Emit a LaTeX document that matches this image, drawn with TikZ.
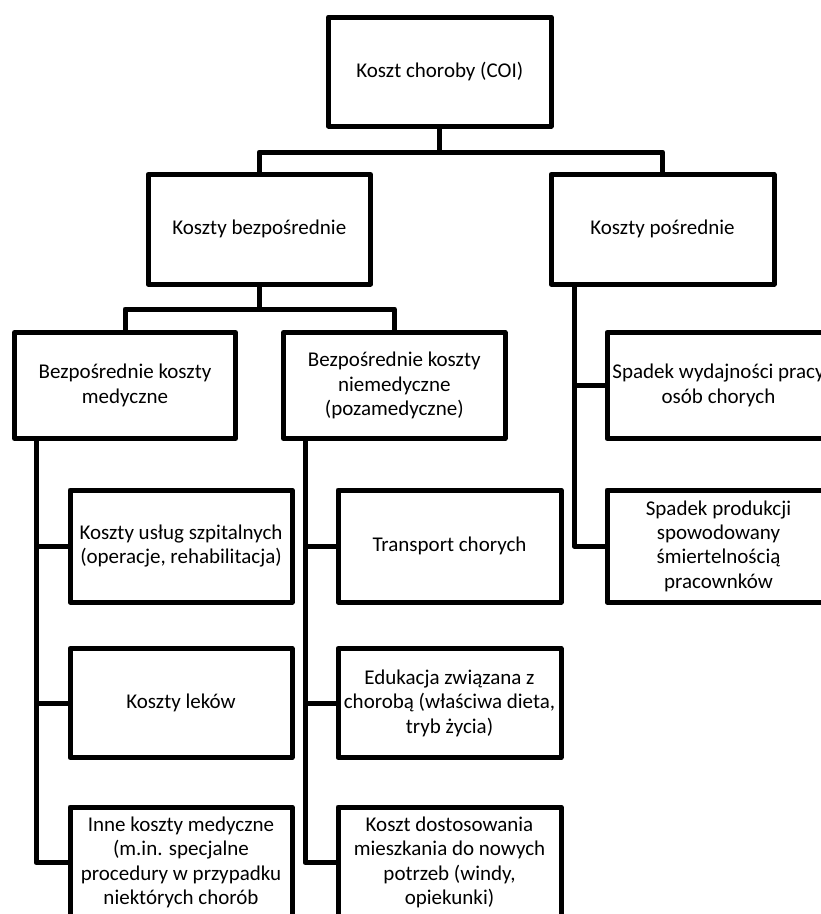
\documentclass[tikz,border=0pt]{standalone}
\usepackage{fontspec}
\setmainfont{Carlito}
\begin{document}
\begin{tikzpicture}[x=1pt,y=-1pt,
  box/.style={draw=black,line width=5pt,rectangle,inner sep=0pt,outer sep=0pt,
    align=center,font=\fontsize{21}{24.4}\selectfont,line join=round},
  conn/.style={draw=black,line width=5pt,line join=round}]
\useasboundingbox (0,0) rectangle (821,914);
\clip (0,0) rectangle (821,914);
% boxes
\node[box,minimum width=222.5pt,minimum height=109pt] (root) at (439.75,71.5) {Koszt choroby (COI)};
\node[box,minimum width=222.5pt,minimum height=109.5pt] (kb) at (259.25,229.25) {Koszty bezpośrednie};
\node[box,minimum width=223pt,minimum height=109.5pt] (kp) at (662.5,229.25) {Koszty pośrednie};
\node[box,minimum width=221pt,minimum height=106pt] (bkm) at (125,385.5) {Bezpośrednie koszty\\medyczne};
\node[box,minimum width=221.5pt,minimum height=106pt] (bkn) at (394.25,385.5) {Bezpośrednie koszty\\niemedyczne\\(pozamedyczne)};
\node[box,minimum width=223pt,minimum height=106pt] (swp) at (718.5,385.5) {Spadek wydajności pracy\\osób chorych};
\node[box,minimum width=222pt,minimum height=112pt] (usl) at (181,546) {Koszty usług szpitalnych\\(operacje, rehabilitacja)};
\node[box,minimum width=222pt,minimum height=109pt] (lek) at (181,703) {Koszty leków};
\node[box,minimum width=222pt,minimum height=111pt] (inne) at (181,862.5) {Inne koszty medyczne\\(m.in. specjalne\\procedury w przypadku\\niektórych chorób};
\node[box,minimum width=223pt,minimum height=112pt] (tr) at (449.5,546) {Transport chorych};
\node[box,minimum width=223pt,minimum height=109pt] (edu) at (449.5,703) {Edukacja związana z\\chorobą (właściwa dieta,\\tryb życia)};
\node[box,minimum width=223pt,minimum height=111pt] (kd) at (449.5,862.5) {Koszt dostosowania\\mieszkania do nowych\\potrzeb (windy,\\opiekunki)};
\node[box,minimum width=223pt,minimum height=112pt] (spr) at (718.5,546) {Spadek produkcji\\spowodowany\\śmiertelnością\\pracownków};
% junctions
\coordinate (j1) at (439.75,152);
\coordinate (j2) at (259.25,309);
\coordinate (v1) at ([xshift=21.5pt]bkm.south west);
\coordinate (v2) at ([xshift=21.5pt]bkn.south west);
\coordinate (v3) at ([xshift=23pt]kp.south west);
% connectors
\draw[conn] (root.south) -- (j1);
\draw[conn] (kb.north) |- (j1) -| (kp.north);
\draw[conn] (kb.south) -- (j2);
\draw[conn] (bkm.north) |- (j2) -| (bkn.north);
\draw[conn] (v1) |- (inne.west);
\draw[conn] (v1 |- usl.west) -- (usl.west);
\draw[conn] (v1 |- lek.west) -- (lek.west);
\draw[conn] (v2) |- (kd.west);
\draw[conn] (v2 |- tr.west) -- (tr.west);
\draw[conn] (v2 |- edu.west) -- (edu.west);
\draw[conn] (v3) |- (spr.west);
\draw[conn] (v3 |- swp.west) -- (swp.west);
\end{tikzpicture}
\end{document}
